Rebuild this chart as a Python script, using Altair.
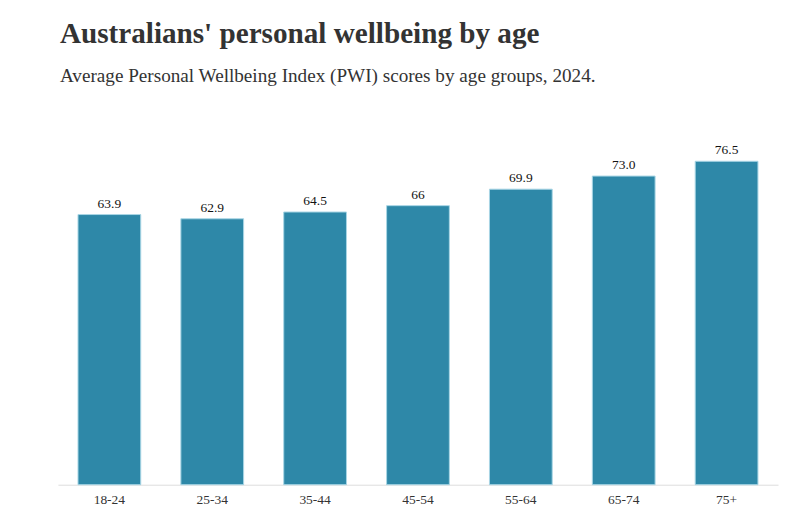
import altair as alt
import pandas as pd

ages = ["18-24", "25-34", "35-44", "45-54", "55-64", "65-74", "75+"]
scores = [63.9, 62.9, 64.5, 66.0, 69.9, 73.0, 76.5]
labels = ["63.9", "62.9", "64.5", "66", "69.9", "73.0", "76.5"]

df = pd.DataFrame({"age": ages, "score": scores, "label": labels})

FONT = "Liberation Serif"

x = alt.X("age:N", sort=ages, title=None,
          scale=alt.Scale(paddingInner=0.39, paddingOuter=0.195),
          axis=alt.Axis(labelAngle=0, ticks=False, domainColor="#dddddd",
                        labelColor="#333333", labelFont=FONT, labelFontSize=13.5,
                        labelPadding=8))
y = alt.Y("score:Q", title=None, scale=alt.Scale(domain=[0, 90]), axis=None)

bars = alt.Chart(df).mark_bar(color="#2e88a8", stroke="#a9d6e5", strokeWidth=1).encode(x=x, y=y)
text = alt.Chart(df).mark_text(baseline="bottom", dy=-4, font=FONT, fontSize=13.5, color="#111111").encode(
    x=alt.X("age:N", sort=ages), y="score:Q", text="label:N")

chart = (bars + text).properties(
    width=721, height=381,
    title=alt.TitleParams(
        "Australians' personal wellbeing by age",
        subtitle="Average Personal Wellbeing Index (PWI) scores by age groups, 2024.",
        anchor="start", font=FONT, fontSize=29.2, fontWeight="bold", color="#333333",
        subtitleFont=FONT, subtitleFontSize=19.2, subtitleColor="#333333",
        subtitlePadding=18, offset=18, dx=2),
    padding={"left": 50, "top": 96, "right": 10, "bottom": 25},
    autosize=alt.AutoSizeParams(type="none"),
).configure_view(stroke=None)

chart.save("out.html", embed_options={"renderer": "svg", "actions": False})
